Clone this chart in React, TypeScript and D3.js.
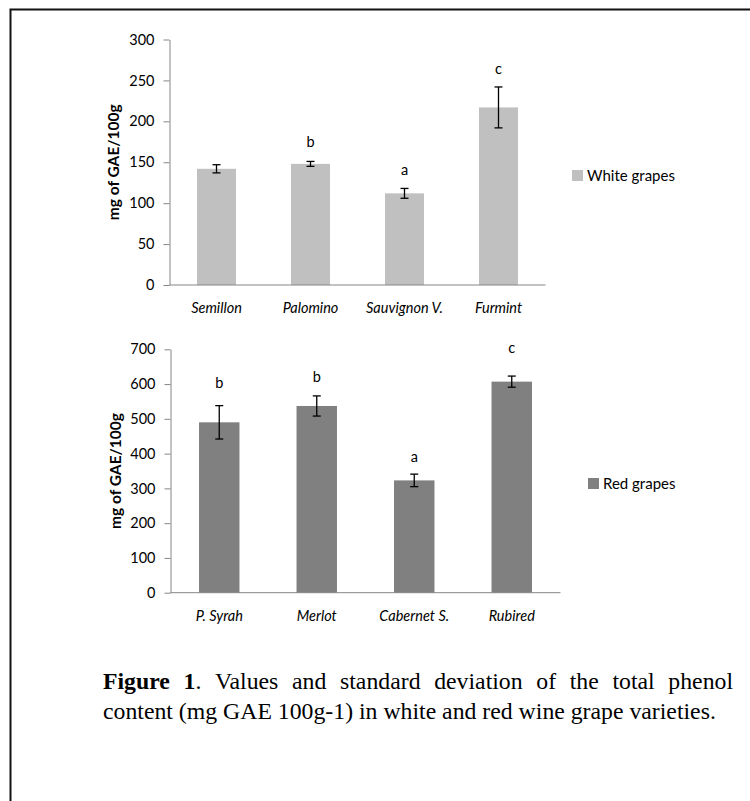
import { useEffect, useRef } from "react";
import * as d3 from "d3";

// white grapes
const whiteNames = ["Semillon", "Palomino", "Sauvignon V.", "Furmint"];
const whiteValues = [142, 148, 112, 217];
const whiteSd = [5, 3, 6, 25];
const whiteLetters = ["", "b", "a", "c"];
const whiteLetterAt = [0, 169, 134, 258];
const whiteTicks = [0, 50, 100, 150, 200, 250, 300];

// red grapes
const redNames = ["P. Syrah", "Merlot", "Cabernet S.", "Rubired"];
const redValues = [490, 537, 323, 607];
const redSd = [48, 29, 18, 16];
const redLetters = ["b", "b", "a", "c"];
const redLetterAt = [589, 606, 377, 688];
const redTicks = [0, 100, 200, 300, 400, 500, 600, 700];

const captionLine1 = [
  { t: "Figure", b: true },
  { t: "1", b: true, tail: "." },
  { t: "Values" },
  { t: "and" },
  { t: "standard" },
  { t: "deviation" },
  { t: "of" },
  { t: "the" },
  { t: "total" },
  { t: "phenol" },
];
const captionLine2 = "content (mg GAE 100g-1)  in white and red wine grape varieties.";

const FONT = "Lato, 'Open Sans', sans-serif";

function drawPanel(svg, opt) {
  var g = svg.append("g");
  var x = d3.scaleBand()
    .domain(opt.names)
    .range([opt.left, opt.right])
    .paddingInner(0.585)
    .paddingOuter(0.2925);
  var y = d3.scaleLinear()
    .domain([0, opt.max])
    .range([opt.bottom, opt.top]);

  // y axis
  var ya = g.append("g")
    .attr("transform", `translate(${opt.left},0)`)
    .call(d3.axisLeft(y).tickValues(opt.ticks).tickSize(6).tickSizeOuter(0).tickPadding(9));
  ya.select(".domain").attr("stroke", "#868686");
  ya.selectAll(".tick line").attr("stroke", "#868686");
  ya.selectAll("text")
    .attr("font-family", FONT)
    .attr("font-size", 14.5)
    .attr("fill", "#000");

  // bars
  g.selectAll(".bar")
    .data(opt.values)
    .enter().append("rect")
    .attr("x", (d, i) => x(opt.names[i]))
    .attr("y", d => y(d))
    .attr("width", x.bandwidth())
    .attr("height", d => opt.bottom - y(d))
    .attr("fill", opt.color);

  // x axis line
  g.append("line")
    .attr("x1", opt.left).attr("x2", opt.right)
    .attr("y1", opt.bottom).attr("y2", opt.bottom)
    .attr("stroke", "#868686");

  // error bars
  opt.values.forEach(function(v, i) {
    var cx = x(opt.names[i]) + x.bandwidth() / 2;
    var hi = y(v + opt.sd[i]), lo = y(v - opt.sd[i]);
    var e = g.append("g").attr("stroke", "#000").attr("stroke-width", 1.3);
    e.append("line").attr("x1", cx).attr("x2", cx).attr("y1", hi).attr("y2", lo);
    e.append("line").attr("x1", cx - 4).attr("x2", cx + 4).attr("y1", hi).attr("y2", hi);
    e.append("line").attr("x1", cx - 4).attr("x2", cx + 4).attr("y1", lo).attr("y2", lo);
    if (opt.letters[i]) {
      g.append("text")
        .attr("x", cx)
        .attr("y", y(opt.letterAt[i]))
        .attr("text-anchor", "middle")
        .attr("font-family", FONT)
        .attr("font-size", 14.5)
        .text(opt.letters[i]);
    }
  });

  // category labels
  g.selectAll(".cat")
    .data(opt.names)
    .enter().append("text")
    .attr("x", d => x(d) + x.bandwidth() / 2)
    .attr("y", opt.bottom + 28)
    .attr("text-anchor", "middle")
    .attr("font-family", FONT)
    .attr("font-style", "italic")
    .attr("font-size", 14.5)
    .text(d => d);

  // y label
  g.append("text")
    .attr("transform", `translate(${opt.labelX},${(opt.top + opt.bottom) / 2}) rotate(-90)`)
    .attr("text-anchor", "middle")
    .attr("font-family", FONT)
    .attr("font-weight", "bold")
    .attr("font-size", 15.5)
    .text("mg of GAE/100g");

  // legend
  var lg = g.append("g").attr("transform", `translate(${opt.legX},${opt.legY})`);
  lg.append("rect").attr("x", 0).attr("y", -10.5).attr("width", 11).attr("height", 11).attr("fill", opt.color);
  lg.append("text")
    .attr("x", 15).attr("y", 0)
    .attr("font-family", FONT)
    .attr("font-size", 15)
    .text(opt.legend);
}

function drawCaption(svg) {
  var cap = svg.append("g")
    .attr("font-family", "'Liberation Serif', 'Times New Roman', serif")
    .attr("font-size", 24)
    .attr("fill", "#000");
  var left = 103, right1 = 733, right2 = 716;

  // line 2, squeezed to its width
  var l2 = cap.append("text").attr("x", 0).attr("y", 0).text(captionLine2);
  var w2 = l2.node().getComputedTextLength();
  var sx = (right2 - left) / w2;
  l2.attr("transform", `translate(${left},719) scale(${sx},1)`);

  // line 1, justified
  var line1 = cap.append("g").attr("transform", `translate(${left},689) scale(${sx},1)`);
  var words = captionLine1.map(function(w) {
    var t = line1.append("text").attr("y", 0);
    t.append("tspan").attr("font-weight", w.b ? "bold" : "normal").text(w.t);
    if (w.tail) t.append("tspan").text(w.tail);
    return { node: t, w: t.node().getComputedTextLength() };
  });
  var total = d3.sum(words, d => d.w);
  var gap = ((right1 - left) / sx - total) / (words.length - 1);
  var pos = 0;
  words.forEach(function(d) {
    d.node.attr("x", pos);
    pos += d.w + gap;
  });
}

function App() {
  const ref = useRef(null);

  useEffect(() => {
    var svg = d3.select(ref.current);
    svg.selectAll("*").remove();

    svg.append("rect").attr("width", 750).attr("height", 801).attr("fill", "#fff");
    // frame
    svg.append("path")
      .attr("d", "M10.5,801 L10.5,9.5 L750,9.5")
      .attr("fill", "none")
      .attr("stroke", "#111")
      .attr("stroke-width", 2);

    drawPanel(svg, {
      names: whiteNames, values: whiteValues, sd: whiteSd,
      letters: whiteLetters, letterAt: whiteLetterAt, ticks: whiteTicks,
      max: 300, left: 169.5, right: 545.5, top: 39.5, bottom: 285,
      color: "#c0c0c0", labelX: 119, legX: 572, legY: 180.5, legend: "White grapes",
    });
    drawPanel(svg, {
      names: redNames, values: redValues, sd: redSd,
      letters: redLetters, letterAt: redLetterAt, ticks: redTicks,
      max: 700, left: 170.5, right: 560.5, top: 349.3, bottom: 592.7,
      color: "#808080", labelX: 121, legX: 588, legY: 488.5, legend: "Red grapes",
    });
    drawCaption(svg);
  }, []);

  return (
    <svg ref={ref} width={750} height={801}
      style={{ position: "absolute", left: 0, top: 0, display: "block" }} />
  );
}

export default App;
